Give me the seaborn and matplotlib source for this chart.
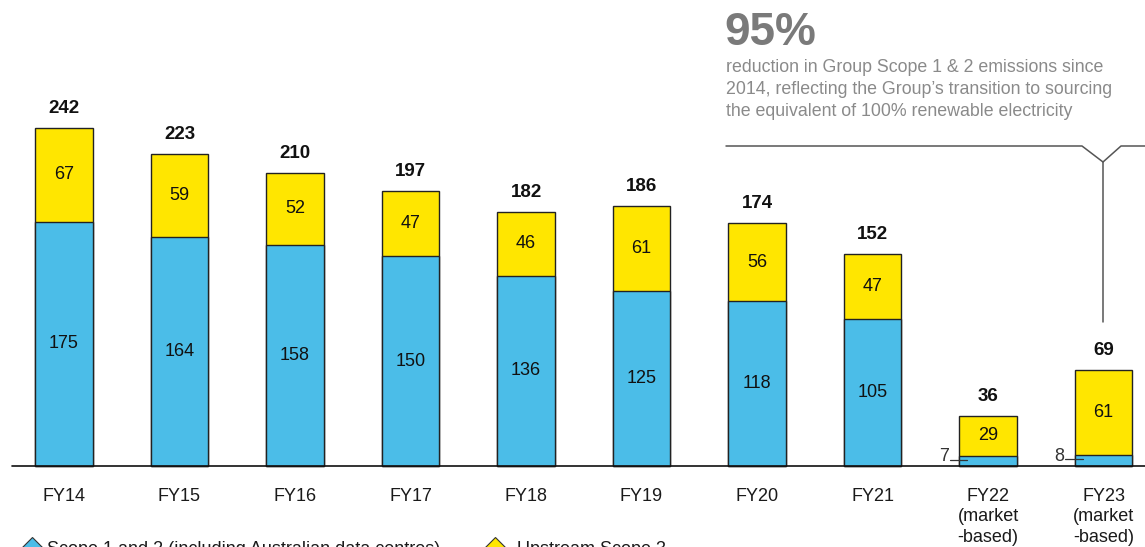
import matplotlib
matplotlib.use("Agg")
import matplotlib.pyplot as plt
import seaborn as sns
import pandas as pd

# Emissions by financial year (ktCO2e)
years = ["FY14", "FY15", "FY16", "FY17", "FY18", "FY19", "FY20", "FY21", "FY22", "FY23"]
tick_labels = ["FY14", "FY15", "FY16", "FY17", "FY18", "FY19", "FY20", "FY21",
               "FY22\n(market\n-based)", "FY23\n(market\n-based)"]
scope12 = [175, 164, 158, 150, 136, 125, 118, 105, 7, 8]
scope3 = [67, 59, 52, 47, 46, 61, 56, 47, 29, 61]
totals = [242, 223, 210, 197, 182, 186, 174, 152, 36, 69]

BLUE = "#4BBDE8"
YELLOW = "#FFE600"
EDGE = "#222222"

sns.set_theme(style="white")
plt.rcParams["font.family"] = ["Liberation Sans", "DejaVu Sans"]

df = pd.DataFrame({"year": years, "scope12": scope12, "scope3": scope3, "total": totals})

W, H = 1145, 547
fig = plt.figure(figsize=(W / 100, H / 100), dpi=100)
ax = fig.add_axes([0, 0, 1, 1])

# Stacked bars: full total in yellow, Scope 1 & 2 drawn over the lower part
sns.barplot(data=df, x="year", y="total", color=YELLOW, width=0.5,
            edgecolor=EDGE, linewidth=1.0, saturation=1, ax=ax, zorder=2)
sns.barplot(data=df, x="year", y="scope12", color=BLUE, width=0.5,
            edgecolor=EDGE, linewidth=1.0, saturation=1, ax=ax, zorder=3)

ax.set_xlim(-0.554, 9.359)
ax.set_ylim(-58.0, 333.6)
for s in ax.spines.values():
    s.set_visible(False)
ax.set_yticks([])
ax.set_xticks([])
ax.set_xlabel("")
ax.set_ylabel("")

# Category labels just below the baseline
for i, lab in enumerate(tick_labels):
    ax.text(i, -15.5, lab, ha="center", va="top", fontsize=13,
            color="#1a1a1a", linespacing=1.28, zorder=5)

# Baseline
ax.axhline(0, xmin=12 / W, xmax=1.0, color="#111111", lw=1.2, zorder=4)

# Value labels
for i, (s12, s3, tot) in enumerate(zip(scope12, scope3, totals)):
    ax.text(i, tot + 14, f"{tot}", ha="center", va="center",
            fontsize=13.5, fontweight="bold", color="#111111", zorder=5)
    ax.text(i, s12 + s3 / 2, f"{s3}", ha="center", va="center",
            fontsize=13, color="#111111", zorder=5)
    if s12 > 20:
        ax.text(i, s12 / 2, f"{s12}", ha="center", va="center",
                fontsize=13, color="#111111", zorder=5)
    else:
        ax.plot([i - 0.33, i - 0.18], [s12 / 2 + 1, s12 / 2 + 1],
                color="#333333", lw=0.9, zorder=5)
        ax.text(i - 0.34, s12 / 2 + 3, f"{s12}", ha="right", va="center",
                fontsize=13, color="#333333", zorder=5)

# Call-out text
fig.text(724 / W, 1 - 33 / H, "95%", fontsize=33, fontweight="bold",
         color="#7a7a7a", ha="left", va="center")
callout = ["reduction in Group Scope 1 & 2 emissions since",
           "2014, reflecting the Group\u2019s transition to sourcing",
           "the equivalent of 100% renewable electricity"]
for k, line in enumerate(callout):
    fig.text(726 / W, 1 - (67 + 22 * k) / H, line, fontsize=12.8,
             color="#8a8a8a", ha="left", va="center")

# Bracket pointing down to FY23
bx = [726, 1082, 1103, 1121, 1145]
by = [146, 146, 162, 146, 146]
fig.lines.append(plt.Line2D([x / W for x in bx], [1 - y / H for y in by],
                            transform=fig.transFigure, color="#555555", lw=1.1))
fig.lines.append(plt.Line2D([1103 / W, 1103 / W], [1 - 162 / H, 1 - 322 / H],
                            transform=fig.transFigure, color="#555555", lw=1.1))

# Legend (diamond markers), running off the bottom edge
fig.text(47 / W, 1 - 550 / H, "Scope 1 and 2 (including Australian data centres)",
         fontsize=13, color="#1a1a1a", ha="left", va="center")
fig.text(517 / W, 1 - 550 / H, "Upstream Scope 3",
         fontsize=13, color="#1a1a1a", ha="left", va="center")
for xm, col in [(32, BLUE), (495, YELLOW)]:
    fig.lines.append(plt.Line2D([xm / W], [1 - 548 / H], transform=fig.transFigure,
                                marker="D", markersize=11, color=col,
                                markeredgecolor="#333333", markeredgewidth=0.8,
                                linestyle="none"))

fig.savefig("out.png", dpi=100)
